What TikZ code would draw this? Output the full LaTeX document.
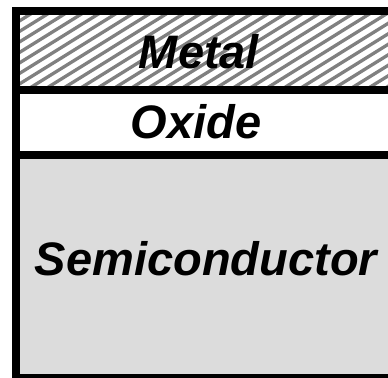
\documentclass[tikz,border=0pt]{standalone}
\usepackage{fontspec}
\setmainfont{Liberation Sans}
\definecolor{semigray}{HTML}{DCDCDC}
\definecolor{hatchgray}{HTML}{808080}
\begin{document}
\begin{tikzpicture}[x=1bp,y=1bp,
  layer/.style={font=\fontsize{47bp}{50bp}\selectfont\bfseries\itshape,anchor=base},
  wall/.style={line width=8bp}]
\useasboundingbox (0,0) rectangle (388,378);
\fill[semigray] (16,-0.5) rectangle (394,223.3);
\begin{scope}
\clip (16,287.5) rectangle (394,367);
\foreach \c in {30,40.5,...,380}
  \draw[hatchgray,line width=3.3bp] (0,\c) -- (400,\c+248);
\end{scope}
\draw[wall] (16,-0.5) rectangle (394,367);
\draw[wall] (16,287.5) -- (394,287.5);
\draw[wall] (16,223.3) -- (394,223.3);
\node[layer] (metal) at (199,309.7) {Metal};
\node[layer] (oxide) at (196,240) {Oxide};
\node[layer] (semi) at (206,103) {Semiconductor};
\end{tikzpicture}
\end{document}
